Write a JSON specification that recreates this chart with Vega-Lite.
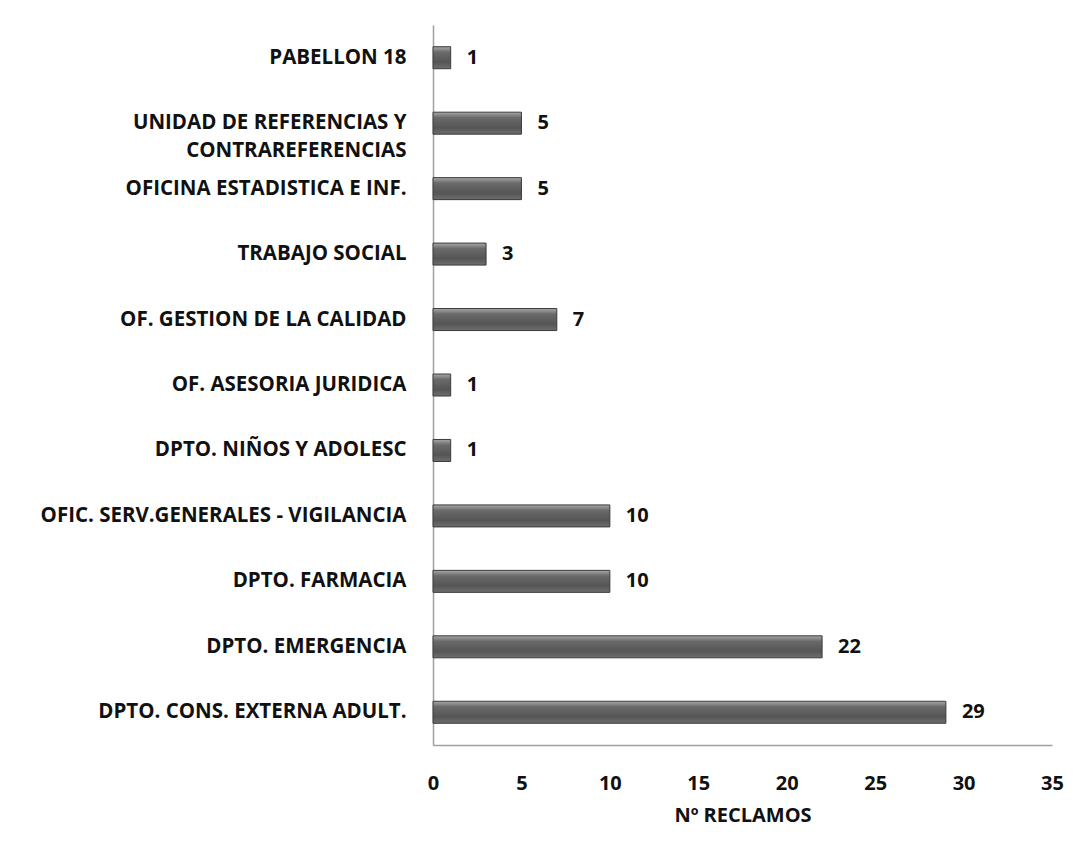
{
  "$schema": "https://vega.github.io/schema/vega-lite/v6.json",
  "autosize": "none",
  "width": 619,
  "height": 720,
  "padding": {"left": 433, "top": 25, "right": 23, "bottom": 107},
  "background": "white",
  "config": {"view": {"stroke": null}, "font": "Open Sans"},
  "data": {"values": [
    {"area": "PABELLON 18", "reclamos": 1},
    {"area": "UNIDAD DE REFERENCIAS Y CONTRAREFERENCIAS", "reclamos": 5},
    {"area": "OFICINA ESTADISTICA E INF.", "reclamos": 5},
    {"area": "TRABAJO SOCIAL", "reclamos": 3},
    {"area": "OF. GESTION DE LA CALIDAD", "reclamos": 7},
    {"area": "OF. ASESORIA JURIDICA", "reclamos": 1},
    {"area": "DPTO. NIÑOS Y ADOLESC", "reclamos": 1},
    {"area": "OFIC. SERV.GENERALES - VIGILANCIA", "reclamos": 10},
    {"area": "DPTO. FARMACIA", "reclamos": 10},
    {"area": "DPTO. EMERGENCIA", "reclamos": 22},
    {"area": "DPTO. CONS. EXTERNA ADULT.", "reclamos": 29}
  ]},
  "encoding": {
    "y": {
      "field": "area", "type": "nominal", "sort": null, "title": null,
      "axis": {
        "domain": true, "domainColor": "#a0a0a0", "domainWidth": 1.5, "ticks": false,
        "labelFont": "Open Sans", "labelFontWeight": "bold", "labelFontSize": 20.5, "labelColor": "#111",
        "labelPadding": 27, "labelLimit": 420, "labelLineHeight": 28,
        "labelExpr": "datum.value == 'UNIDAD DE REFERENCIAS Y CONTRAREFERENCIAS' ? ['UNIDAD DE REFERENCIAS Y', 'CONTRAREFERENCIAS'] : datum.value"
      }
    },
    "x": {
      "field": "reclamos", "type": "quantitative", "title": "Nº RECLAMOS",
      "scale": {"domain": [0, 35], "nice": false},
      "axis": {
        "values": [0, 5, 10, 15, 20, 25, 30, 35], "grid": false, "ticks": false,
        "domainColor": "#a0a0a0", "domainWidth": 1.5,
        "labelFont": "Open Sans", "labelFontWeight": "bold", "labelFontSize": 20, "labelColor": "#111",
        "labelPadding": 28, "labelFlush": false,
        "titleFont": "Open Sans", "titleFontWeight": "bold", "titleFontSize": 20, "titleColor": "#111",
        "titlePadding": 12
      }
    }
  },
  "layer": [
    {
      "mark": {
        "type": "bar", "size": 22, "stroke": "#3a3a3a", "strokeWidth": 1,
        "color": {
          "gradient": "linear", "x1": 0, "y1": 0, "x2": 0, "y2": 1,
          "stops": [
            {"offset": 0, "color": "#a8a8a8"},
            {"offset": 0.25, "color": "#6a6a6a"},
            {"offset": 0.7, "color": "#555555"},
            {"offset": 1, "color": "#6e6e6e"}
          ]
        }
      }
    },
    {
      "mark": {"type": "text", "align": "left", "baseline": "middle", "dx": 16, "font": "Open Sans", "fontWeight": "bold", "fontSize": 20, "color": "#111"},
      "encoding": {"text": {"field": "reclamos", "type": "quantitative"}}
    }
  ]
}
